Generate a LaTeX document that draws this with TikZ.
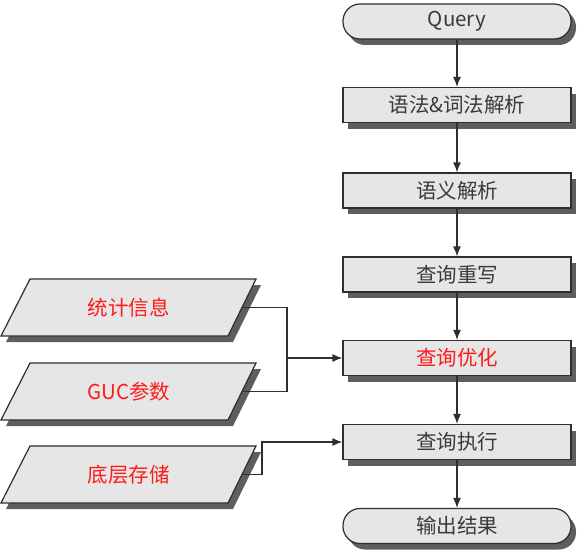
\documentclass[tikz,border=0pt]{standalone}
\usepackage{fontspec}
\setmainfont{Noto Sans CJK SC}
\usetikzlibrary{arrows.meta,shadows}
\definecolor{boxfill}{HTML}{E6E6E6}
\definecolor{boxline}{HTML}{2E2E2E}
\definecolor{shcol}{HTML}{5E5E5E}
\definecolor{txtgray}{HTML}{3A3A3A}
\definecolor{txtred}{HTML}{FF1A1A}
\tikzset{
  base/.style={draw=boxline, fill=boxfill, line width=1.2pt, minimum width=228pt, minimum height=35pt, inner sep=0pt,
    text=txtgray, font=\fontsize{20.5}{24}\selectfont,
    drop shadow={shadow xshift=5pt, shadow yshift=-6pt, fill=shcol, opacity=1}},
  stepbox/.style={base},
  termbox/.style={base, rounded corners=17pt},
  paratext/.style={minimum width=226.5pt, minimum height=57pt, inner sep=0pt, text=txtred, font=\fontsize{20.5}{24}\selectfont},
  paraline/.style={draw=boxline, fill=boxfill, line width=1.2pt, line join=miter},
  conn/.style={draw=boxline, line width=1.2pt},
  arr/.style={conn, -{Latex[length=10pt,width=8pt]}}
}
\begin{document}
\begin{tikzpicture}[x=1pt,y=-1pt]
\useasboundingbox (0,0) rectangle (578,551);
% right column
\node[termbox] (q) at (457,21.5) {Query};
\node[stepbox] (b1) at (457,105) {语法\&词法解析};
\node[stepbox] (b2) at (457,190.5) {语义解析};
\node[stepbox] (b3) at (457,274.5) {查询重写};
\node[stepbox, text=txtred] (b4) at (457,358) {查询优化};
\node[stepbox] (b5) at (457,442) {查询执行};
\node[termbox] (e) at (457,526) {输出结果};
% parallelograms
\foreach \cy in {307.5,391.5,474.5} {
  \fill[shcol] (35,{\cy-22.5}) -- (261,{\cy-22.5}) -- (233,{\cy+34.5}) -- (6,{\cy+34.5}) -- cycle;
  \path[paraline] (30,{\cy-28.5}) -- (256,{\cy-28.5}) -- (228,{\cy+28.5}) -- (1,{\cy+28.5}) -- cycle;
}
\node[paratext] (p1) at (128.75,307.5) {统计信息};
\node[paratext] (p2) at (128.75,391.5) {GUC参数};
\node[paratext] (p3) at (128.75,474.5) {底层存储};
% connectors
\draw[arr] (q) -- (b1);
\draw[arr] (b1) -- (b2);
\draw[arr] (b2) -- (b3);
\draw[arr] (b3) -- (b4);
\draw[arr] (b4) -- (b5);
\draw[arr] (b5) -- (e);
\coordinate (j) at (287,358);
\coordinate (k) at (262,442);
\draw[conn] (p1.east) -| (j);
\draw[conn] (p2.east) -| (j);
\draw[arr] (j) -- (b4.west);
\draw[arr] (p3.east) -| (k) -- (b5.west);
\end{tikzpicture}
\end{document}
